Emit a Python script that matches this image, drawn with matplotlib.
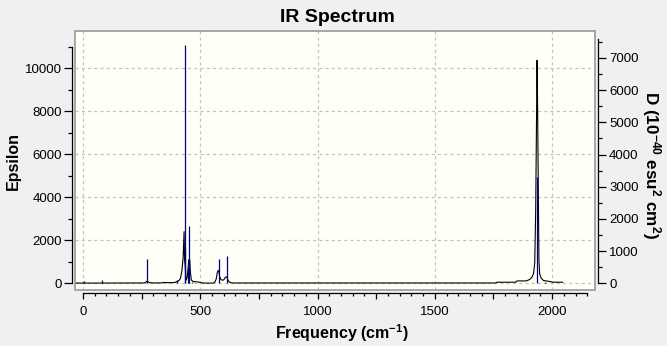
import matplotlib
matplotlib.use("Agg")
import matplotlib.pyplot as plt
from matplotlib.patches import Rectangle
from matplotlib.ticker import MultipleLocator, FuncFormatter

plt.rcParams["font.family"] = ["Liberation Sans", "DejaVu Sans"]
plt.rcParams["mathtext.fontset"] = "custom"
plt.rcParams["mathtext.rm"] = "Liberation Sans:bold"
plt.rcParams["mathtext.bf"] = "Liberation Sans:bold"
plt.rcParams["mathtext.default"] = "bf"

# broadened spectrum (epsilon), read point by point
curve_freq = [-34, 0, 260, 266, 271, 274, 278, 285, 300, 335, 345, 355, 380, 392,
              400, 406, 411, 416, 422, 427, 431, 433, 436, 439, 444, 448, 451, 455,
              458, 462, 470, 490, 500, 510, 555, 562, 568, 573, 578, 583, 588, 597,
              603, 607, 613, 618, 624, 633, 1760, 1765, 1845, 1850, 1890, 1905, 1915,
              1921, 1926, 1930, 1936, 1938, 1941, 1944, 1947, 1953, 1963, 1976, 1997,
              2000, 2045]
curve_eps = [10, 10, 15, 40, 80, 100, 60, 25, 15, 20, 40, 30, 30, 40,
             80, 100, 150, 250, 600, 1220, 2400, 1100, 800, 150, 250, 700, 1100, 1100,
             500, 150, 80, 60, 40, 10, 10, 50, 200, 530, 600, 300, 170, 140,
             200, 290, 290, 150, 60, 15, 15, 50, 50, 110, 110, 180, 300,
             450, 930, 3300, 10370, 8500, 4700, 1070, 450, 250, 130, 110, 70,
             50, 50]

# stick intensities (dipole strength D)
stick_freq = [4, 81, 274, 400, 434, 437, 449, 454, 463, 578, 612, 1937, 1971]
stick_d = [80, 110, 745, 100, 1090, 7390, 500, 1770, 40, 767, 838, 3300, 40]

bg = "#f0f0f0"
fig = plt.figure(figsize=(6.67, 3.46), dpi=100, facecolor=bg)
ax = fig.add_axes([75 / 667, 56 / 346, 520 / 667, 259 / 346])
ax.set_facecolor("#fffff7")
ax2 = ax.twinx()

ax.set_xlim(-34.1, 2183)
ax.set_ylim(-312, 11735)
ax2.set_ylim(-208, 7838)

# dashed grid
for gx in [0, 500, 1000, 1500, 2000]:
    ax.axvline(gx, color="#c4c4c4", lw=0.9, ls=(0, (2.5, 2.5)), zorder=0)
for gy in [0, 2000, 4000, 6000, 8000, 10000]:
    ax.axhline(gy, color="#c4c4c4", lw=0.9, ls=(0, (2.5, 2.5)), zorder=0)

ax.plot(curve_freq, curve_eps, color="black", lw=0.8, zorder=2)
ax2.vlines(stick_freq, 0, stick_d, color="#000080", lw=0.9)

# plot frame
ax.add_patch(Rectangle((0, 0), 1, 1, transform=ax.transAxes, fill=False,
                       edgecolor="#a0a0a0", lw=1.3, clip_on=False, zorder=5))

off = 3 * 72 / 100
for name in ["top", "right"]:
    ax.spines[name].set_visible(False)
for name in ["top", "left", "bottom"]:
    ax2.spines[name].set_visible(False)
ax.spines["left"].set_position(("outward", off))
ax.spines["bottom"].set_position(("outward", off))
ax2.spines["right"].set_position(("outward", off))
ax.spines["left"].set_bounds(0, 11000)
ax.spines["bottom"].set_bounds(0, 2150)
ax2.spines["right"].set_bounds(0, 7600)
for sp in [ax.spines["left"], ax.spines["bottom"], ax2.spines["right"]]:
    sp.set_linewidth(0.9)

ax.xaxis.set_major_locator(MultipleLocator(250))
ax.xaxis.set_minor_locator(MultipleLocator(50))
ax.xaxis.set_major_formatter(FuncFormatter(lambda v, p: f"{v:.0f}" if v % 500 == 0 else ""))
ax.yaxis.set_major_locator(MultipleLocator(2000))
ax.yaxis.set_minor_locator(MultipleLocator(1000))
ax2.yaxis.set_major_locator(MultipleLocator(1000))
ax2.yaxis.set_minor_locator(MultipleLocator(500))

ax.tick_params(axis="x", which="major", direction="out", length=4.5, width=0.9,
               labelsize=9.5, pad=5)
ax.tick_params(axis="x", which="minor", direction="out", length=2.5, width=0.9)
ax.tick_params(axis="y", which="major", direction="out", length=5.5, width=0.9,
               labelsize=9.5, pad=1.5)
ax.tick_params(axis="y", which="minor", direction="out", length=3, width=0.9)
ax2.tick_params(axis="y", which="major", direction="out", length=5.5, width=0.9,
                labelsize=9.5, pad=2.5)
ax2.tick_params(axis="y", which="minor", direction="out", length=3, width=0.9)

W, H = 667, 346
fig.text(337 / W, 1 - 17 / H, "IR Spectrum", ha="center", va="center",
         fontsize=14, fontweight="bold")
fig.text(341.5 / W, 1 - 333 / H, r"Frequency (cm$^{-1}$)", ha="center", va="center",
         fontsize=11.5, fontweight="bold")
fig.text(13 / W, 1 - 161 / H, "Epsilon", ha="center", va="center", rotation=90,
         fontsize=11.5, fontweight="bold")
fig.text(651 / W, 1 - 165 / H, r"D (10$^{-40}$ esu$^{2}$ cm$^{2}$)", ha="center",
         va="center", rotation=-90, fontsize=12.3, fontweight="bold")

fig.savefig("out.png", dpi=100, facecolor=bg)
